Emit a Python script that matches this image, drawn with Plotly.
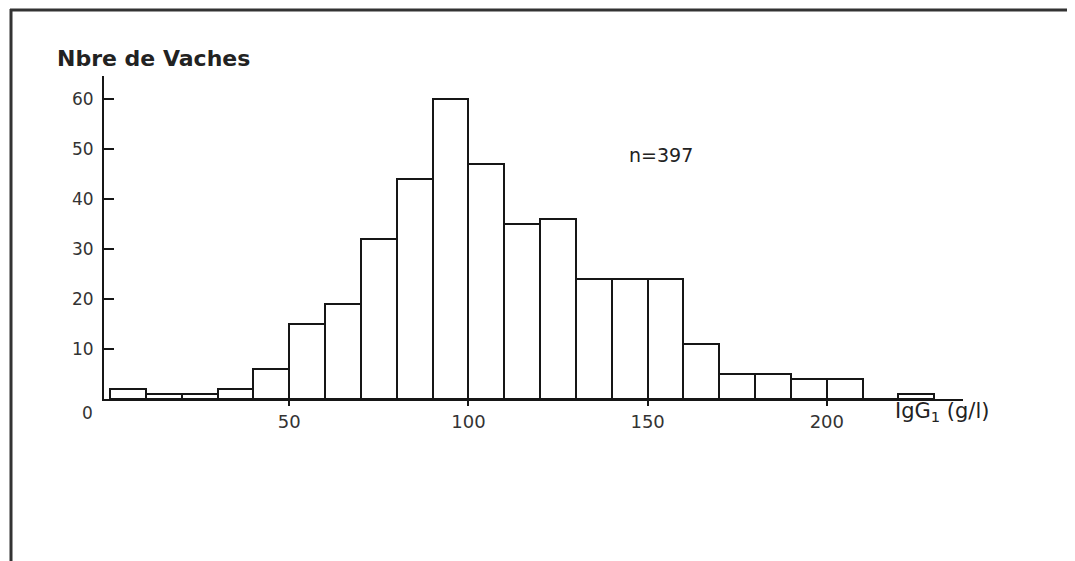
import plotly.graph_objects as go

# ---- data ----
bin_left = [0, 10, 20, 30, 40, 50, 60, 70, 80, 90, 100, 110, 120, 130, 140, 150,
            160, 170, 180, 190, 200, 210, 220]
counts = [2, 1, 1, 2, 6, 15, 19, 32, 44, 60, 47, 35, 36, 24, 24, 24,
          11, 5, 5, 4, 4, 0, 1]
bin_width = 10
x_ticks = [50, 100, 150, 200]
y_ticks = [10, 20, 30, 40, 50, 60]
y_title = "Nbre de Vaches"
x_title = "IgG<sub>1</sub> (g/l)"
n_label = "n=397"

# ---- layout geometry (page pixels; the page body has an 8px margin) ----
OFF = 8
PW, PH = 1075, 561
W, H = PW - OFF, PH - OFF
L, R, T, B = 104, 963, 76, 399  # plot area edges in page pixels


def px(x):
    return (x - L) / (R - L)


def py(y):
    return (B - y) / (B - T)


FONT = "DejaVu Sans"
INK = "#161616"

centers = [b + bin_width / 2 for b in bin_left]

fig = go.Figure()
fig.add_trace(go.Bar(
    x=centers, y=counts, width=bin_width,
    marker=dict(color="white", line=dict(color=INK, width=2)),
    showlegend=False, hoverinfo="x+y",
))

fig.update_layout(
    width=W, height=H,
    margin=dict(l=L - OFF, r=PW - R, t=T - OFF, b=PH - B, pad=0),
    paper_bgcolor="white", plot_bgcolor="white",
    font=dict(family=FONT, color="#222", size=16),
    bargap=0,
    xaxis=dict(range=[-1.7, 238], tickvals=x_ticks, ticks="outside", ticklen=5,
               tickwidth=2, tickcolor=INK, showline=True, linecolor=INK, linewidth=2,
               showgrid=False, zeroline=False, tickfont=dict(size=18, color="#333")),
    yaxis=dict(range=[0, 64.6], tickvals=y_ticks, ticks="inside", ticklen=10,
               tickwidth=2, tickcolor=INK, showline=True, linecolor=INK, linewidth=2,
               showgrid=False, zeroline=False, ticklabelstandoff=5,
               tickfont=dict(size=17, color="#333")),
)

annotations = [
    dict(text=f"<b>{y_title}</b>", x=px(55), y=py(58), xanchor="left", yanchor="middle",
         font=dict(size=22, color="#222")),
    dict(text=x_title, x=px(893), y=py(412), xanchor="left", yanchor="middle",
         font=dict(size=21, color="#222")),
    dict(text=n_label, x=px(627), y=py(155), xanchor="left", yanchor="middle",
         font=dict(size=19, color="#222")),
    dict(text="0", x=px(95), y=py(413), xanchor="right", yanchor="middle",
         font=dict(size=17, color="#333")),
]
for a in annotations:
    a.update(xref="paper", yref="paper", showarrow=False)
fig.update_layout(annotations=annotations)

# outer frame of the scanned page
shapes = [
    dict(type="line", x0=px(11), x1=px(11), y0=py(9), y1=py(PH + 5),
         line=dict(color="#333", width=3)),
    dict(type="line", x0=px(10), x1=px(1074), y0=py(10), y1=py(10),
         line=dict(color="#333", width=3)),
    dict(type="line", x0=px(1072), x1=px(1072), y0=py(9), y1=py(PH + 5),
         line=dict(color="#999", width=2)),
]
for s in shapes:
    s.update(xref="paper", yref="paper", layer="above")
fig.update_layout(shapes=shapes)

fig.write_html("out.html")
